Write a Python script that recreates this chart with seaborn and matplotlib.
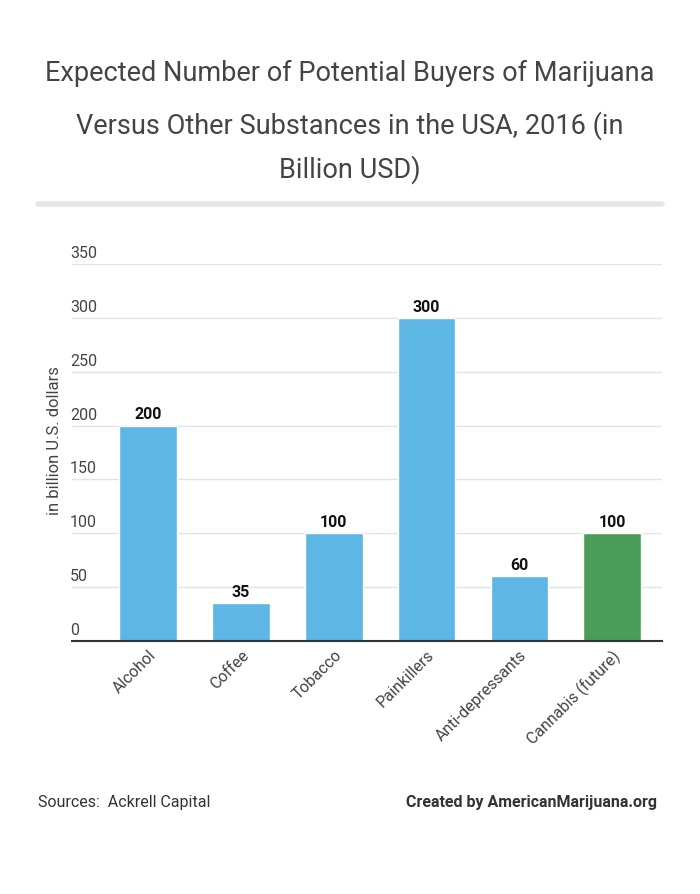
import matplotlib
matplotlib.use("Agg")
import matplotlib.pyplot as plt
from matplotlib.transforms import ScaledTranslation
import seaborn as sns
import pandas as pd

categories = ["Alcohol", "Coffee", "Tobacco", "Painkillers", "Anti-depressants", "Cannabis (future)"]
values = [200, 35, 100, 300, 60, 100]
bar_colors = ["#5eb6e4", "#5eb6e4", "#5eb6e4", "#5eb6e4", "#5eb6e4", "#4a9c58"]
y_ticks = [0, 50, 100, 150, 200, 250, 300, 350]

sns.set_theme(style="white")
plt.rcParams["font.family"] = ["Roboto", "DejaVu Sans"]

df = pd.DataFrame({"category": categories, "value": values})

fig = plt.figure(figsize=(7, 8.95), dpi=100)
ax = fig.add_axes([0.103, 0.2827, 0.843, 0.4213])

sns.barplot(data=df, x="category", y="value", hue="category", palette=bar_colors,
            width=0.62, legend=False, ax=ax, saturation=1)

ax.set_ylim(0, 350)
ax.set_xlim(-0.82, 5.54)
ax.set_yticks(y_ticks)
ax.yaxis.grid(True, color="#e3e3e3", linewidth=1)
ax.set_axisbelow(True)
for s in ["top", "right", "left"]:
    ax.spines[s].set_visible(False)
ax.spines["bottom"].set_color("#333333")
ax.spines["bottom"].set_linewidth(1.5)

# y tick labels sit just above the gridlines, starting at the left edge
ax.tick_params(axis="y", length=0, pad=1.5, labelsize=11.5, labelcolor="#444444")
for lbl in ax.get_yticklabels():
    lbl.set_horizontalalignment("left")
    lbl.set_verticalalignment("bottom")
    lbl.set_transform(lbl.get_transform() + ScaledTranslation(0, 4 / 100, fig.dpi_scale_trans))

ax.tick_params(axis="x", length=0, pad=4, labelsize=11.5, labelcolor="#444444")
ax.set_xticks(range(len(categories)))
ax.set_xticklabels(categories, rotation=45, ha="right", rotation_mode="anchor")

ax.set_xlabel("")
ax.set_ylabel("in billion U.S. dollars", fontsize=12, color="#444444")
ax.yaxis.set_label_coords(-0.017, 0.535)

for i, v in enumerate(values):
    ax.annotate(str(v), (i, v), xytext=(0, 3), textcoords="offset points",
                ha="center", va="bottom", fontsize=11.5, fontweight="bold", color="#111111")

fig.text(0.5, 0.918, "Expected Number of Potential Buyers of Marijuana", ha="center", va="center",
         fontsize=19.5, color="#444444")
fig.text(0.5, 0.860, "Versus Other Substances in the USA, 2016 (in", ha="center", va="center",
         fontsize=19.5, color="#444444")
fig.text(0.5, 0.810, "Billion USD)", ha="center", va="center", fontsize=19.5, color="#444444")

fig.add_artist(plt.Line2D([38 / 700, 662 / 700], [1 - 205 / 895, 1 - 205 / 895],
                          color="#e6e6e6", linewidth=4, transform=fig.transFigure))

fig.text(38 / 700, 1 - 803 / 895, "Sources:  Ackrell Capital", ha="left", va="center",
         fontsize=11.5, color="#333333")
fig.text(657 / 700, 1 - 803 / 895, "Created by AmericanMarijuana.org", ha="right", va="center",
         fontsize=11.5, color="#333333", fontweight="bold")

fig.savefig("out.png", dpi=100, facecolor="white")
